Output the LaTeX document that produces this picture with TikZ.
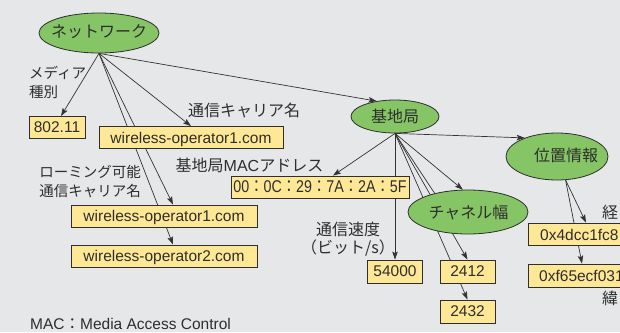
\documentclass[tikz,border=0pt]{standalone}
\usepackage{fontspec}
\setmainfont{Liberation Sans}
\newfontfamily\jp{Noto Sans CJK JP}
\usetikzlibrary{arrows.meta,shapes.geometric,calc}
\definecolor{paper}{HTML}{E6E7E9}
\definecolor{leaf}{HTML}{FFE895}
\definecolor{oval}{HTML}{85C566}
\definecolor{ink}{HTML}{2E2E2E}
\definecolor{wire}{HTML}{333333}
\pgfdeclarelayer{back}
\pgfdeclarelayer{edges}
\pgfsetlayers{back,edges,main}

\begin{document}
\begin{tikzpicture}[x=1pt,y=-1pt,
  every node/.style={text=ink, inner sep=0pt},
  oval/.style={ellipse, draw=ink, line width=0.8pt, fill=oval},
  ovaltext/.style={font=\jp\fontsize{16}{16}\selectfont},
  leafbox/.style={rectangle, draw=ink, line width=0.8pt, fill=leaf,
    minimum height=22pt, text depth=0pt, font=\fontsize{15.5}{15.5}\selectfont},
  lbl/.style={font=\jp\fontsize{16}{18}\selectfont, align=center},
  slbl/.style={font=\jp\fontsize{14.5}{19}\selectfont, align=left},
  link/.style={draw=wire, line width=0.7pt, -{Stealth[length=8pt,width=5.5pt,inset=1.5pt]}},
  plainlink/.style={draw=wire, line width=0.7pt}
]
\useasboundingbox (0,0) rectangle (620,332);
\begin{pgfonlayer}{back}
  \fill[paper] (0,0) rectangle (620,332);
\end{pgfonlayer}

% attribute ovals
\node[oval, minimum width=120pt, minimum height=40pt] (enet) at (99,33) {};
\node[ovaltext] (tnet) at (99,32) {ネットワーク};
\node[oval, minimum width=88pt, minimum height=33pt] (ebase) at (395,116.5) {};
\node[ovaltext] (tbase) at (395,116.5) {基地局};
\node[oval, minimum width=102pt, minimum height=47pt] (eloc) at (557,156.5) {};
\node[ovaltext] (tloc) at (566,155.5) {位置情報};
\node[oval, minimum width=120pt, minimum height=44pt] (ech) at (468,212) {};
\node[ovaltext] (tch) at (468.5,213) {チャネル幅};
\coordinate (chhid) at (447,212);

% value boxes
\node[leafbox, minimum width=56pt] (b80211) at (57,127.5) {802.11};
\node[leafbox, minimum width=184pt] (bop0) at (191,137.5) {wireless-operator1.com};
\node[leafbox, minimum width=178pt] (bmac) at (320,187)
  {\scalebox{0.84}[1]{\fontsize{17}{17}\selectfont 00{\jp ：}0C{\jp ：}29{\jp ：}7A{\jp ：}2A{\jp ：}5F}};
\node[leafbox, minimum width=186pt] (bop1) at (164,216) {wireless-operator1.com};
\node[leafbox, minimum width=186pt] (bop2) at (164,256) {wireless-operator2.com};
\node[leafbox, minimum width=55pt, minimum height=23pt] (b54000) at (395,271.5) {54000};
\node[leafbox, minimum width=55pt, minimum height=23pt] (b2412) at (467.5,271.5) {2412};
\node[leafbox, minimum width=55pt, minimum height=23pt] (b2432) at (467.5,311.5) {2432};
\node[leafbox, minimum width=120pt, anchor=west] (blon) at (528,234) {};
\node[anchor=west, font=\fontsize{15.5}{15.5}\selectfont] (tlon) at (540,234.5) {0x4dcc1fc8};
\node[leafbox, minimum width=120pt, minimum height=23pt, anchor=west] (blat) at (528,275.5) {};
\node[anchor=west, font=\fontsize{15.5}{15.5}\selectfont] (tlat) at (539,276) {0xf65ecf031};

% labels
\node[slbl, anchor=west] (lmedia) at (29,82.5) {メディア\\種別};
\node[lbl] (lcarrier) at (244,110) {通信キャリア名};
\node[lbl] (lmac) at (249.5,165) {基地局{\rmfamily MAC}アドレス};
\node[slbl] (lroam) at (90,181.5) {ローミング可能\\通信キャリア名};
\node[lbl] (lspeed) at (348,239) {通信速度\\（ビット/s）};
\node[lbl, anchor=west] (llon) at (602,212) {経};
\node[lbl, anchor=west] (llat) at (602,298) {緯};
\node[anchor=base west, text depth=0pt, font=\fontsize{15.5}{15.5}\selectfont] (note) at (30,329)
  {MAC{\jp ：}Media Access Control};

% connectors
\begin{pgfonlayer}{edges}
  \draw[link] (enet.south) -- ([xshift=4pt]b80211.north);
  \draw[link] (enet.south) -- (bop0.north);
  \draw[link] (enet.south) -- (ebase.140);
  \draw[link] (enet.south) -- ([xshift=9pt]bop1.north);
  \draw[link] (enet.south) -- ([xshift=9pt]bop2.north);
  \draw[link] (ebase.south) -- ([xshift=13pt]bmac.north);
  \draw[link] (ebase.south) -- (ebase.south |- b54000.north);
  \draw[link] (ebase.south) -- (ech.103);
  \draw[link] (ebase.south) -- (b2412.north);
  \draw[link] (ebase.south) -- (b2432.north);
  \draw[plainlink] (ebase.south) -- (chhid);
  \draw[link] (ebase.south) -- (eloc.150);
  \draw[link] (eloc.290) -- ([xshift=58pt]blon.north west);
  \draw[link] (eloc.290) -- ([xshift=54pt]blat.north west);
\end{pgfonlayer}
\end{tikzpicture}
\end{document}
